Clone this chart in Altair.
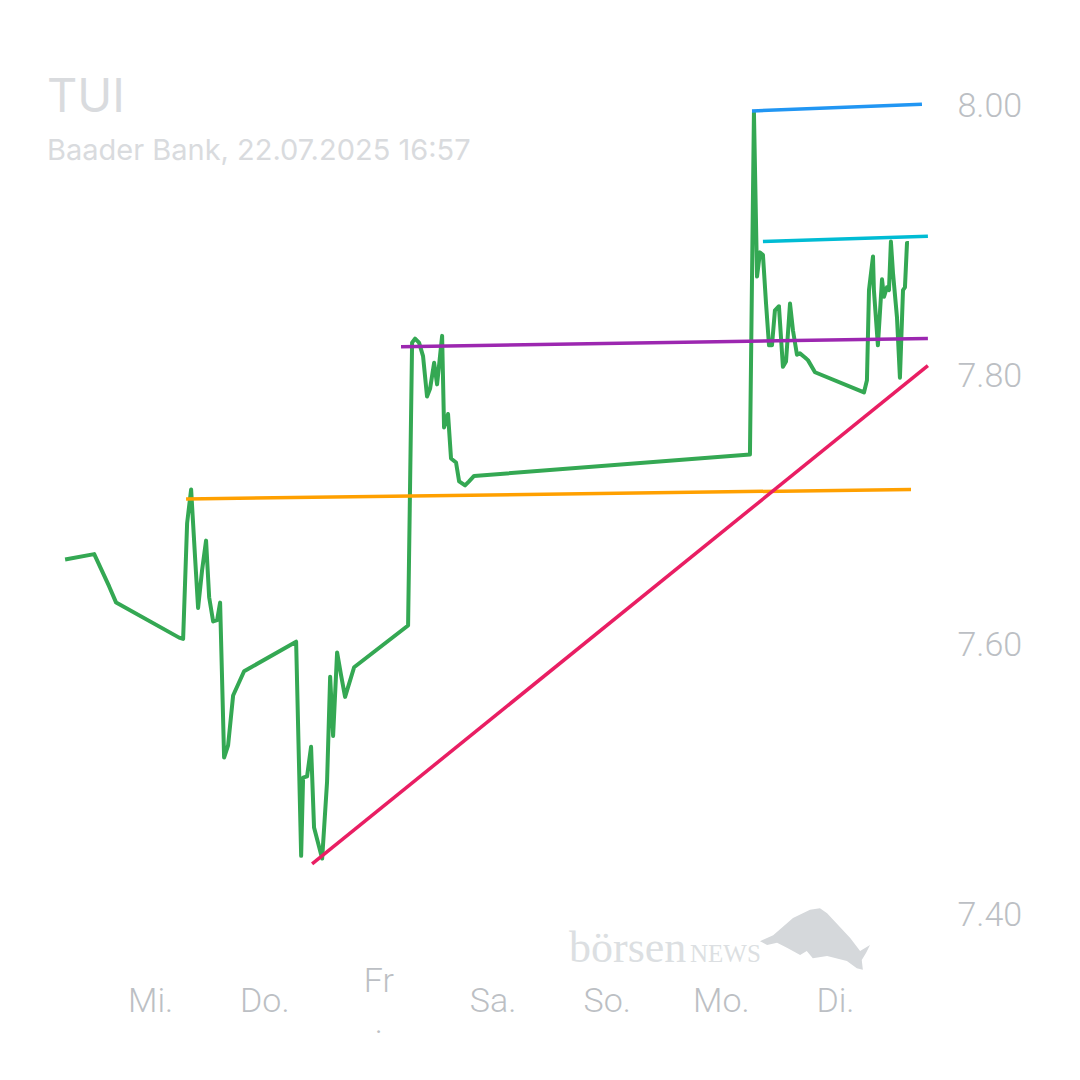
import altair as alt
import pandas as pd

# ---- price series (x in trading-day units: Mi.=0 ... Di.=6) ----
day = [-0.745, -0.490, -0.359, -0.298, 0.254, 0.289, 0.324, 0.359, 0.394, 0.420,
       0.455, 0.490, 0.517, 0.552, 0.587, 0.613, 0.648, 0.683, 0.727, 0.823,
       1.279, 1.323, 1.340, 1.375, 1.410, 1.436, 1.507, 1.550, 1.577, 1.603,
       1.638, 1.673, 1.708, 1.787, 2.260, 2.295, 2.321, 2.356, 2.391, 2.426,
       2.453, 2.488, 2.514, 2.558, 2.575, 2.610, 2.636, 2.680, 2.707, 2.759,
       2.794, 2.838, 5.255, 5.290, 5.317, 5.343, 5.369, 5.396, 5.422, 5.448,
       5.474, 5.509, 5.544, 5.571, 5.606, 5.632, 5.667, 5.693, 5.737, 5.763,
       5.825, 6.254, 6.280, 6.298, 6.333, 6.341, 6.376, 6.412, 6.429, 6.455,
       6.473, 6.490, 6.508, 6.543, 6.569, 6.596, 6.613, 6.631, 6.648]
price = [7.664, 7.668, 7.644, 7.632, 7.606, 7.605, 7.691, 7.716, 7.665, 7.628,
         7.656, 7.678, 7.636, 7.618, 7.619, 7.632, 7.517, 7.526, 7.563, 7.581,
         7.603, 7.444, 7.502, 7.503, 7.525, 7.465, 7.442, 7.499, 7.577, 7.533,
         7.595, 7.578, 7.562, 7.584, 7.615, 7.825, 7.828, 7.825, 7.815, 7.785,
         7.791, 7.810, 7.794, 7.830, 7.762, 7.772, 7.739, 7.736, 7.722, 7.719,
         7.722, 7.726, 7.742, 7.996, 7.874, 7.892, 7.890, 7.854, 7.823, 7.823,
         7.849, 7.852, 7.807, 7.811, 7.854, 7.834, 7.816, 7.817, 7.814, 7.812,
         7.803, 7.788, 7.797, 7.864, 7.889, 7.864, 7.823, 7.872, 7.859, 7.866,
         7.864, 7.900, 7.877, 7.844, 7.799, 7.864, 7.866, 7.899, 7.899]

# ---- trend / support / resistance lines ----
trend_names = ["blue", "cyan", "purple", "orange", "pink"]
trend_x1 = [5.273, 5.369, 2.198, 0.315, 1.419]
trend_y1 = [7.997, 7.900, 7.822, 7.709, 7.438]
trend_x2 = [6.762, 6.814, 6.814, 6.666, 6.814]
trend_y2 = [8.002, 7.904, 7.828, 7.716, 7.808]
trend_colors = ["#2196f3", "#00bcd4", "#9c27b0", "#ffa000", "#e91e63"]

day_labels = ["Mi.", "Do.", "Fr.", "Sa.", "So.", "Mo.", "Di."]
y_ticks = [7.4, 7.6, 7.8, 8.0]

n = min(len(day), len(price))
series = pd.DataFrame({"day": day[:n], "price": price[:n], "i": list(range(n))})
trends = pd.DataFrame({"name": trend_names, "x1": trend_x1, "y1": trend_y1,
                       "x2": trend_x2, "y2": trend_y2})

# "Fr." is broken over two lines in the original; others sit half a line lower.
# A zero-width space keeps the spacer line of "Fr." from being trimmed away.
Z = "\u200b"
label_expr = (f"[['', 'Mi.'], ['', 'Do.'], ['Fr', '{Z}', '.'], ['', 'Sa.'],"
              f" ['', 'So.'], ['', 'Mo.'], ['', 'Di.']][round(datum.value)]")

xscale = alt.Scale(domain=[-1, 6.85], nice=False, zero=False)
yscale = alt.Scale(domain=[7.36, 8.04], nice=False, zero=False)

xaxis = alt.Axis(values=list(range(len(day_labels))), labelExpr=label_expr, title=None,
                 grid=False, ticks=False, domain=False, labelFont="Roboto",
                 labelFontSize=34, labelFontWeight=300, labelColor="#bcbfc4",
                 labelPadding=12, labelBaseline="middle", labelLineHeight=20.5,
                 labelOverlap=False, labelFlush=False, labelAlign="center")
yaxis = alt.Axis(values=y_ticks, format=".2f", orient="right", title=None,
                 grid=False, ticks=False, domain=False, labelFont="Roboto",
                 labelFontSize=34, labelFontWeight=300, labelColor="#bcbfc4",
                 labelPadding=25, labelAlign="left", labelBaseline="middle")

line = alt.Chart(series).mark_line(color="#34a853", strokeWidth=4,
                                   strokeJoin="round").encode(
    x=alt.X("day:Q", scale=xscale, axis=xaxis),
    y=alt.Y("price:Q", scale=yscale, axis=yaxis),
    order="i:Q",
)

rules = alt.Chart(trends).mark_rule(strokeWidth=3.5).encode(
    x=alt.X("x1:Q", scale=xscale),
    y=alt.Y("y1:Q", scale=yscale),
    x2="x2:Q",
    y2="y2:Q",
    color=alt.Color("name:N", scale=alt.Scale(domain=trend_names, range=trend_colors),
                    legend=None),
)

wm1 = alt.Chart(pd.DataFrame({"t": ["börsen"]})).mark_text(
    font="Liberation Serif", fontSize=44, color="#dcdfe2", align="left",
    baseline="alphabetic").encode(text="t:N", x=alt.value(533), y=alt.value(909))
wm2 = alt.Chart(pd.DataFrame({"t": ["NEWS"]})).mark_text(
    font="Liberation Serif", fontSize=25, color="#dcdfe2", align="left",
    baseline="alphabetic").encode(text="t:N", x=alt.value(654), y=alt.value(909))

bull_path = ("M -1.0 0.04 L -0.76 -0.07 L -0.4 -0.38 L -0.09 -0.53 L 0.09 -0.56 "
             "L 0.22 -0.47 L 0.64 -0.02 L 0.82 0.22 L 1.0 0.11 L 0.93 0.25 "
             "L 0.85 0.38 L 0.87 0.56 L 0.76 0.53 L 0.58 0.4 L 0.22 0.31 "
             "L -0.04 0.35 L -0.15 0.22 L -0.27 0.29 L -0.51 0.16 L -0.69 0.07 "
             "L -0.87 0.11 Z")
bull = alt.Chart(pd.DataFrame({"k": [1]})).mark_point(
    shape=bull_path, filled=True, color="#d5d8db", opacity=1, size=12100,
    strokeWidth=0).encode(x=alt.value(779), y=alt.value(886))

chart = alt.layer(wm1, wm2, bull, line, rules).properties(
    width=896, height=916,
    padding={"left": 28, "top": 45, "right": 140, "bottom": 103},
    autosize=alt.AutoSizeParams(type="none"),
    background="white",
    title=alt.Title("TUI", subtitle="Baader Bank, 22.07.2025 16:57", anchor="start",
                    frame="group", font="Inter", fontSize=47, fontWeight=400,
                    color="#d9dbde", subtitleFont="Inter", subtitleFontSize=29,
                    subtitleColor="#d9dbde", subtitlePadding=15, dx=11, dy=118),
).configure_view(stroke=None, strokeWidth=0)

chart.save("out.html", embed_options={"renderer": "svg", "actions": False})
